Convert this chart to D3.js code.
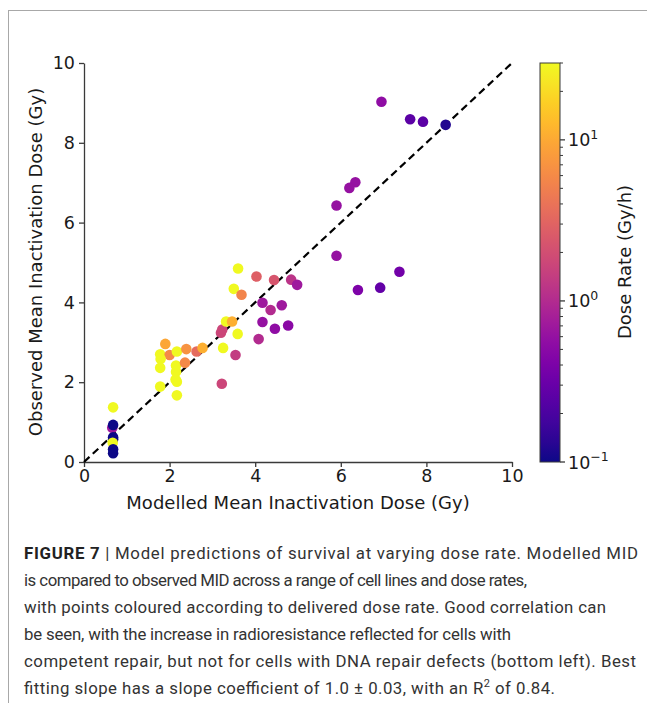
<!DOCTYPE html>
<html>
<head>
<meta charset="utf-8">
<script src="https://cdn.jsdelivr.net/npm/d3@7"></script>
<style>
  body { margin: 0; background: #fff; }
  svg { display: block; font-family: "DejaVu Sans", sans-serif; }
</style>
</head>
<body>
<svg id="fig" width="647" height="703"></svg>
<script>
// modelled vs observed MID (Gy) and delivered dose rate (Gy/h)
const modelled = [0.68, 0.66, 0.68, 0.68, 0.68, 0.67, 0.68, 0.68,
  1.90, 1.78, 2.00, 2.17, 2.39, 2.63, 2.77, 1.79, 1.78, 2.15, 2.36, 2.15, 2.17, 1.78, 2.14, 2.17,
  3.22, 3.54, 3.25, 3.59, 3.20, 3.23, 3.32, 3.46, 3.60, 3.50, 3.68, 4.03, 4.44, 4.84, 4.98,
  4.17, 4.36, 4.62, 4.17, 4.46, 4.77, 4.08,
  6.95, 7.62, 7.92, 8.45, 6.34, 6.20, 5.90, 5.90, 7.37, 6.40, 6.92];
const observed = [1.37, 0.86, 0.93, 0.62, 0.57, 0.48, 0.32, 0.22,
  2.96, 2.70, 2.68, 2.77, 2.83, 2.77, 2.86, 2.58, 2.36, 2.42, 2.49, 2.26, 2.01, 1.89, 2.07, 1.67,
  1.96, 2.68, 2.86, 3.21, 3.24, 3.32, 3.52, 3.52, 4.85, 4.34, 4.19, 4.65, 4.56, 4.57, 4.44,
  3.99, 3.81, 3.93, 3.51, 3.34, 3.42, 3.08,
  9.03, 8.59, 8.53, 8.45, 7.01, 6.87, 6.43, 5.17, 4.77, 4.31, 4.37];
const doseRate = [30, 0.7, 0.1, 0.1, 0.1, 30, 0.1, 0.1,
  9.5, 30, 6, 30, 7, 3.5, 11, 30, 30, 30, 6, 30, 30, 30, 30, 30,
  1.7, 1.4, 30, 30, 1.7, 1.7, 30, 11, 30, 30, 5.5, 2.8, 2.3, 1.2, 0.7,
  0.7, 1.0, 0.7, 0.6, 0.55, 0.5, 1.0,
  0.55, 0.25, 0.25, 0.12, 0.6, 0.6, 0.6, 0.6, 0.35, 0.42, 0.28];

const axisTicks = [0, 2, 4, 6, 8, 10];
const rateDomain = [0.1, 30];
const rateMajor = [0.1, 1, 10];
const rateExp = ['\u22121', '0', '1'];

const captionLines = [
  'Model predictions of survival at varying dose rate. Modelled MID',
  'is compared to observed MID across a range of cell lines and dose rates,',
  'with points coloured according to delivered dose rate. Good correlation can',
  'be seen, with the increase in radioresistance reflected for cells with',
  'competent repair, but not for cells with DNA repair defects (bottom left). Best',
  'fitting slope has a slope coefficient of 1.0 \u00b1 0.03, with an R'
];
const captionEnds = [638, 527, 606, 511, 636, 555];

const svg = d3.select('#fig');
const TXT = '#1a1a1a';
const SPINE = '#3a3a3a';
const FS = 17.5;

// frame around the figure
svg.append('line').attr('x1', 8).attr('x2', 647).attr('y1', 10.5).attr('y2', 10.5)
  .attr('stroke', '#a8a8a8').attr('stroke-width', 1);
svg.append('line').attr('x1', 8.5).attr('x2', 8.5).attr('y1', 10).attr('y2', 703)
  .attr('stroke', '#a8a8a8').attr('stroke-width', 1);

const x = d3.scaleLinear().domain([0, 10]).range([84, 512]);
const y = d3.scaleLinear().domain([0, 10]).range([462, 63]);
const color = d3.scaleSequentialLog(d3.interpolatePlasma).domain(rateDomain);

// axes
const xAxis = svg.append('g').attr('transform', `translate(0,${y(0)})`)
  .call(d3.axisBottom(x).tickValues(axisTicks).tickSize(5).tickSizeOuter(0).tickPadding(3));
const yAxis = svg.append('g').attr('transform', `translate(${x(0)},0)`)
  .call(d3.axisLeft(y).tickValues(axisTicks).tickSize(5).tickSizeOuter(0).tickPadding(4));
[xAxis, yAxis].forEach(g => {
  g.select('.domain').attr('stroke', SPINE).attr('stroke-width', 1.3);
  g.selectAll('.tick line').attr('stroke', SPINE).attr('stroke-width', 1.3);
  g.selectAll('.tick text').attr('fill', TXT).attr('font-size', FS)
    .attr('font-family', '"DejaVu Sans", sans-serif');
});

// identity line
svg.append('line')
  .attr('x1', x(0)).attr('y1', y(0)).attr('x2', x(10)).attr('y2', y(10))
  .attr('stroke', '#000').attr('stroke-width', 2.2).attr('stroke-dasharray', '7.5,4.5');

// points
svg.append('g').selectAll('circle')
  .data(d3.range(modelled.length))
  .join('circle')
  .attr('cx', i => x(modelled[i]))
  .attr('cy', i => y(observed[i]))
  .attr('r', 5.3)
  .attr('fill', i => color(doseRate[i]));

// axis labels
svg.append('text').attr('x', 298).attr('y', 509).attr('text-anchor', 'middle')
  .attr('font-size', 18).attr('fill', TXT).text('Modelled Mean Inactivation Dose (Gy)');
svg.append('text').attr('transform', 'translate(42,262) rotate(-90)').attr('text-anchor', 'middle')
  .attr('font-size', 18).attr('fill', TXT).text('Observed Mean Inactivation Dose (Gy)');

// colorbar
const cb = { x: 540, w: 20 };
const cy = d3.scaleLog().domain(rateDomain).range([462, 63]);
const grad = svg.append('defs').append('linearGradient').attr('id', 'cbgrad')
  .attr('x1', 0).attr('y1', 1).attr('x2', 0).attr('y2', 0);
d3.range(0, 1.0001, 0.05).forEach(t => {
  grad.append('stop').attr('offset', t).attr('stop-color', d3.interpolatePlasma(t));
});
svg.append('rect').attr('x', cb.x).attr('y', cy(rateDomain[1])).attr('width', cb.w)
  .attr('height', cy(rateDomain[0]) - cy(rateDomain[1]))
  .attr('fill', 'url(#cbgrad)').attr('stroke', SPINE).attr('stroke-width', 1);

const minor = cy.ticks().filter(v => !rateMajor.includes(v) && v <= rateDomain[1]);
svg.append('g').selectAll('line').data(minor).join('line')
  .attr('x1', cb.x + cb.w).attr('x2', cb.x + cb.w + 3)
  .attr('y1', d => cy(d)).attr('y2', d => cy(d)).attr('stroke', SPINE).attr('stroke-width', 1);
const major = svg.append('g').selectAll('g').data(rateMajor).join('g')
  .attr('transform', d => `translate(${cb.x + cb.w},${cy(d)})`);
major.append('line').attr('x2', 5).attr('stroke', SPINE).attr('stroke-width', 1.3);
const lab = major.append('text').attr('x', 8).attr('y', 6.5).attr('font-size', FS).attr('fill', TXT);
lab.append('tspan').text('10');
lab.append('tspan').attr('dy', -7.5).attr('font-size', 12.5).text((d, i) => rateExp[i]);

svg.append('text').attr('transform', 'translate(631,262) rotate(-90)').attr('text-anchor', 'middle')
  .attr('font-size', 18).attr('fill', TXT).text('Dose Rate (Gy/h)');

// caption
const cap = svg.append('g').attr('font-family', 'Roboto, "Liberation Sans", Arial, sans-serif')
  .attr('font-size', 16.8).attr('fill', '#333');
captionLines.forEach((line, i) => {
  const t = cap.append('text').attr('x', 24).attr('y', 559 + i * 27)
    .attr('textLength', captionEnds[i] - 24).attr('lengthAdjust', 'spacing');
  if (i === 0) {
    t.append('tspan').attr('font-weight', 'bold').attr('fill', '#222').text('FIGURE 7');
    t.append('tspan').text(' | ' + line);
  } else {
    t.append('tspan').text(line);
  }
  if (i === captionLines.length - 1) {
    t.append('tspan').attr('dy', -7).attr('font-size', 11).text('2');
    t.append('tspan').attr('dy', 7).text(' of 0.84.');
  }
});
</script>
</body>
</html>
